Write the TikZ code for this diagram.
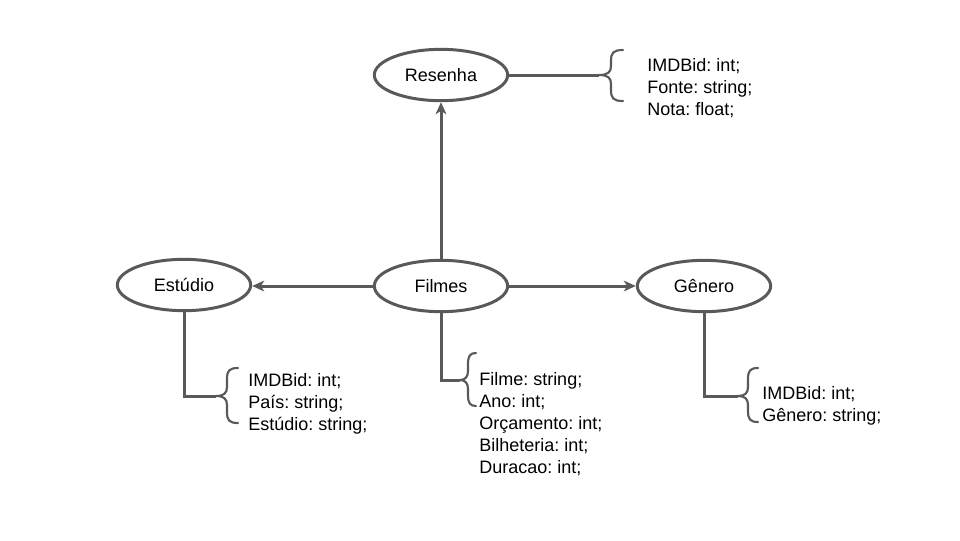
\documentclass[tikz,border=0pt]{standalone}
\usepackage{fontspec}
\setmainfont{Liberation Sans}
\usetikzlibrary{arrows.meta,shapes.geometric}
\definecolor{lc}{HTML}{595959}
\frenchspacing
\newcommand{\curlybrace}[5]{% tip x, end x, top y, mid y, bottom y
  \pgfmathsetmacro{\xm}{(#1+#2)/2}%
  \draw[bracestyle] (#2,#3) .. controls (\xm+2,#3) and (\xm,#3+3) .. (\xm,#3+11)
    -- (\xm,#4-9) .. controls (\xm,#4-3) and (\xm-3,#4) .. (#1,#4)
    .. controls (\xm-3,#4) and (\xm,#4+3) .. (\xm,#4+9)
    -- (\xm,#5-11) .. controls (\xm,#5-3) and (\xm+2,#5) .. (#2,#5);}
\begin{document}
\begin{tikzpicture}[x=0.75pt,y=-0.75pt,
  ent/.style={draw=lc,line width=2.25pt,ellipse,minimum width=100pt,minimum height=38.5pt,inner sep=0pt,font=\fontsize{13.5}{16.5}\selectfont},
  conn/.style={draw=lc,line width=2.25pt},
  arr/.style={conn,-{Stealth[length=9pt,width=8pt,inset=2.5pt]}},
  bracestyle/.style={draw=lc,line width=1.6pt,line cap=round},
  attr/.style={anchor=north west,inner sep=0pt,align=left,font=\fontsize{13.5}{16.5}\selectfont}]
\useasboundingbox (0,0) rectangle (960,540);

\node[ent] (res) at (441,75) {Resenha};
\node[ent] (fil) at (441,286) {Filmes};
\node[ent] (est) at (184,285) {Estúdio};
\node[ent] (gen) at (704,286) {Gênero};

% brace tips
\coordinate (bres) at (599,75);
\coordinate (best) at (216,396);
\coordinate (bfil) at (460,380);
\coordinate (bgen) at (738,396);

% braces
\curlybrace{599}{623}{50}{75}{101}
\curlybrace{216}{238}{368}{396}{423}
\curlybrace{460}{476}{353}{380}{406}
\curlybrace{738}{758}{368}{396}{422}

% connectors
\draw[arr] (fil.north) -- (res.south);
\draw[arr] (fil.west) -- (est.east |- fil.west);
\draw[arr] (fil.east) -- (gen.west);
\draw[conn] (res.east) -- (bres);
\draw[conn] (est.south) |- (best);
\draw[conn] (fil.south) |- (bfil);
\draw[conn] (gen.south) |- (bgen);

% attribute texts
\node[attr] (tres) at (647,58) {IMDBid: int;\\Fonte: string;\\Nota: float;};
\node[attr] (test) at (248,373) {IMDBid: int;\\País: string;\\Estúdio: string;};
\node[attr] (tfil) at (479,372) {Filme: string;\\Ano: int;\\Orçamento: int;\\Bilheteria: int;\\Duracao: int;};
\node[attr] (tgen) at (762,386) {IMDBid: int;\\Gênero: string;};
\end{tikzpicture}
\end{document}
